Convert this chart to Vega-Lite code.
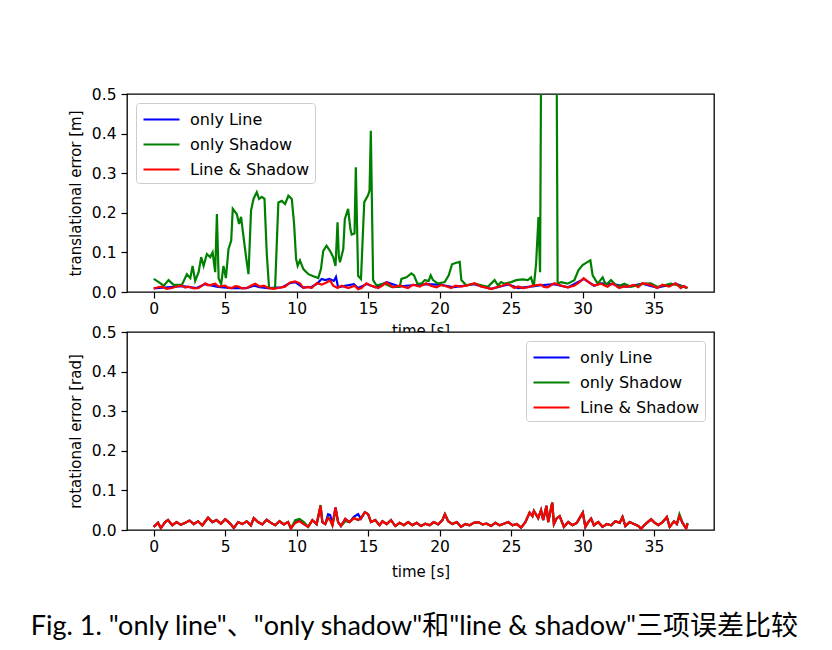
{
  "$schema": "https://vega.github.io/schema/vega-lite/v6.json",
  "padding": {"left": 30, "top": 86, "right": 5, "bottom": 5},
  "title": {
    "text": "Fig. 1. \"only line\"、\"only shadow\"和\"line & shadow\"三项误差比较",
    "orient": "bottom", "anchor": "start", "font": "Lato, Noto Sans CJK SC",
    "fontSize": 27, "fontWeight": "normal", "color": "black", "offset": 34, "dx": -37
  },
  "config": {
    "font": "DejaVu Sans",
    "view": {"stroke": "black", "strokeWidth": 1.3, "fill": "white"},
    "axis": {
      "domain": false, "grid": false, "tickColor": "black", "tickSize": 6, "tickWidth": 1.2, "labelOverlap": false,
      "labelFont": "DejaVu Sans", "labelFontSize": 15.5, "labelColor": "black", "labelPadding": 3,
      "titleFont": "DejaVu Sans", "titleFontSize": 15, "titleFontWeight": "normal", "titleColor": "black"
    },
    "axisY": {"labelPadding": 5},
    "legend": {
      "title": null, "labelFont": "DejaVu Sans", "labelFontSize": 16, "labelColor": "black",
      "symbolType": "M-1.8,0H1.8", "symbolSize": 400, "symbolStrokeWidth": 2.2,
      "symbolOffset": 9, "labelOffset": 17, "padding": 5, "rowPadding": 5,
      "fillColor": "white", "strokeColor": "#cccccc", "cornerRadius": 3, "offset": 9
    },
    "line": {"strokeWidth": 2.2}
  },
  "datasets": {
    "tb": [
      {"t":0,"v":0.009},{"t":1,"v":0.012},{"t":2,"v":0.015},{"t":3,"v":0.01},{"t":3.6,"v":0.02},{"t":4.5,"v":0.013},{"t":5.5,"v":0.01},{"t":6.5,"v":0.01},{"t":7.0,"v":0.016},{"t":7.4,"v":0.012},{"t":8,"v":0.01},{"t":9,"v":0.012},{"t":9.5,"v":0.022},{"t":9.9,"v":0.025},{"t":10.4,"v":0.012},{"t":11.0,"v":0.012},{"t":11.4,"v":0.02},{"t":11.75,"v":0.033},{"t":12.0,"v":0.03},{"t":12.3,"v":0.033},{"t":12.6,"v":0.028},{"t":12.75,"v":0.038},{"t":12.9,"v":0.012},{"t":13.3,"v":0.015},{"t":14.0,"v":0.02},{"t":14.3,"v":0.01},{"t":14.9,"v":0.02},{"t":15.5,"v":0.012},{"t":16.3,"v":0.025},{"t":17.2,"v":0.014},{"t":18.1,"v":0.017},{"t":19.1,"v":0.02},{"t":20.1,"v":0.018},{"t":21.0,"v":0.012},{"t":22.4,"v":0.02},{"t":23.6,"v":0.008},{"t":24.8,"v":0.019},{"t":25.5,"v":0.01},{"t":26.5,"v":0.014},{"t":27.1,"v":0.017},{"t":28.0,"v":0.02},{"t":29,"v":0.012},{"t":30.1,"v":0.033},{"t":30.8,"v":0.016},{"t":31.3,"v":0.022},{"t":32.1,"v":0.02},{"t":33.1,"v":0.013},{"t":34.2,"v":0.021},{"t":35.2,"v":0.011},{"t":36.5,"v":0.021},{"t":37.33,"v":0.01}
    ],
    "tg": [
      {"t":0,"v":0.033},{"t":0.35,"v":0.025},{"t":0.7,"v":0.016},{"t":1.04,"v":0.03},{"t":1.39,"v":0.018},{"t":1.97,"v":0.018},{"t":2.32,"v":0.045},{"t":2.56,"v":0.035},{"t":2.72,"v":0.066},{"t":2.9,"v":0.028},{"t":3.14,"v":0.05},{"t":3.32,"v":0.088},{"t":3.49,"v":0.066},{"t":3.72,"v":0.096},{"t":3.95,"v":0.088},{"t":4.12,"v":0.1},{"t":4.3,"v":0.05},{"t":4.42,"v":0.197},{"t":4.54,"v":0.035},{"t":4.72,"v":0.02},{"t":4.88,"v":0.066},{"t":5.05,"v":0.035},{"t":5.23,"v":0.108},{"t":5.42,"v":0.13},{"t":5.53,"v":0.21},{"t":5.81,"v":0.197},{"t":5.97,"v":0.172},{"t":6.11,"v":0.19},{"t":6.28,"v":0.14},{"t":6.46,"v":0.088},{"t":6.63,"v":0.045},{"t":6.81,"v":0.206},{"t":6.98,"v":0.235},{"t":7.21,"v":0.252},{"t":7.37,"v":0.235},{"t":7.56,"v":0.24},{"t":7.75,"v":0.235},{"t":7.91,"v":0.096},{"t":8.07,"v":0.01},{"t":8.49,"v":0.01},{"t":8.72,"v":0.226},{"t":8.96,"v":0.23},{"t":9.19,"v":0.222},{"t":9.42,"v":0.243},{"t":9.66,"v":0.235},{"t":9.82,"v":0.172},{"t":9.96,"v":0.084},{"t":10.07,"v":0.066},{"t":10.23,"v":0.08},{"t":10.47,"v":0.058},{"t":10.82,"v":0.045},{"t":11.17,"v":0.04},{"t":11.51,"v":0.035},{"t":11.7,"v":0.058},{"t":11.86,"v":0.104},{"t":12.09,"v":0.117},{"t":12.33,"v":0.104},{"t":12.56,"v":0.088},{"t":12.72,"v":0.066},{"t":12.86,"v":0.176},{"t":12.95,"v":0.09},{"t":13.03,"v":0.075},{"t":13.26,"v":0.108},{"t":13.37,"v":0.184},{"t":13.6,"v":0.21},{"t":13.76,"v":0.159},{"t":13.85,"v":0.145},{"t":14.05,"v":0.148},{"t":14.14,"v":0.315},{"t":14.3,"v":0.041},{"t":14.5,"v":0.033},{"t":14.73,"v":0.227},{"t":15.0,"v":0.245},{"t":15.1,"v":0.256},{"t":15.19,"v":0.407},{"t":15.35,"v":0.03},{"t":15.58,"v":0.017},{"t":16.16,"v":0.021},{"t":16.4,"v":0.017},{"t":16.63,"v":0.013},{"t":17.21,"v":0.013},{"t":17.33,"v":0.033},{"t":17.68,"v":0.037},{"t":18.03,"v":0.047},{"t":18.21,"v":0.042},{"t":18.45,"v":0.021},{"t":18.73,"v":0.021},{"t":18.96,"v":0.03},{"t":19.24,"v":0.028},{"t":19.38,"v":0.042},{"t":19.54,"v":0.03},{"t":19.89,"v":0.021},{"t":20.36,"v":0.025},{"t":20.64,"v":0.042},{"t":20.87,"v":0.07},{"t":21.17,"v":0.074},{"t":21.41,"v":0.076},{"t":21.52,"v":0.03},{"t":21.87,"v":0.017},{"t":22.45,"v":0.021},{"t":22.92,"v":0.017},{"t":23.38,"v":0.013},{"t":23.85,"v":0.03},{"t":24.08,"v":0.017},{"t":24.31,"v":0.025},{"t":24.54,"v":0.021},{"t":25.01,"v":0.025},{"t":25.36,"v":0.03},{"t":25.82,"v":0.032},{"t":26.17,"v":0.03},{"t":26.4,"v":0.037},{"t":26.59,"v":0.013},{"t":26.75,"v":0.07},{"t":26.92,"v":0.189},{"t":27.03,"v":0.05},{"t":27.15,"v":0.9},{"t":27.6,"v":1.0},{"t":28.15,"v":0.9},{"t":28.26,"v":0.021},{"t":28.5,"v":0.025},{"t":28.96,"v":0.021},{"t":29.43,"v":0.03},{"t":29.71,"v":0.055},{"t":30.01,"v":0.068},{"t":30.36,"v":0.076},{"t":30.55,"v":0.08},{"t":30.71,"v":0.042},{"t":31.06,"v":0.021},{"t":31.41,"v":0.037},{"t":31.64,"v":0.017},{"t":31.99,"v":0.03},{"t":32.46,"v":0.013},{"t":32.92,"v":0.021},{"t":33.39,"v":0.013},{"t":33.85,"v":0.017},{"t":34.32,"v":0.021},{"t":34.79,"v":0.022},{"t":35.25,"v":0.013},{"t":35.72,"v":0.017},{"t":36.18,"v":0.021},{"t":36.65,"v":0.017},{"t":37.11,"v":0.013},{"t":37.35,"v":0.01}
    ],
    "tr": [
      {"t":0,"v":0.009},{"t":0.3,"v":0.012},{"t":0.58,"v":0.0135},{"t":0.9,"v":0.008},{"t":1.28,"v":0.01},{"t":1.6,"v":0.014},{"t":1.97,"v":0.016},{"t":2.2,"v":0.011},{"t":2.44,"v":0.0135},{"t":2.8,"v":0.009},{"t":3.14,"v":0.01},{"t":3.6,"v":0.022},{"t":3.8,"v":0.017},{"t":4.07,"v":0.0185},{"t":4.3,"v":0.021},{"t":4.54,"v":0.0135},{"t":5.0,"v":0.016},{"t":5.2,"v":0.011},{"t":5.47,"v":0.01},{"t":5.7,"v":0.015},{"t":5.93,"v":0.0135},{"t":6.2,"v":0.009},{"t":6.51,"v":0.01},{"t":6.8,"v":0.016},{"t":7.1,"v":0.021},{"t":7.45,"v":0.0135},{"t":7.7,"v":0.016},{"t":8.03,"v":0.01},{"t":8.4,"v":0.008},{"t":8.72,"v":0.01},{"t":9.19,"v":0.0135},{"t":9.54,"v":0.024},{"t":9.89,"v":0.027},{"t":10.23,"v":0.022},{"t":10.47,"v":0.01},{"t":10.8,"v":0.013},{"t":11.05,"v":0.01},{"t":11.4,"v":0.022},{"t":11.75,"v":0.0185},{"t":12.09,"v":0.024},{"t":12.33,"v":0.029},{"t":12.56,"v":0.016},{"t":12.86,"v":0.01},{"t":13.14,"v":0.016},{"t":13.61,"v":0.01},{"t":14.07,"v":0.016},{"t":14.3,"v":0.007},{"t":14.54,"v":0.01},{"t":14.88,"v":0.022},{"t":15.23,"v":0.016},{"t":15.7,"v":0.01},{"t":16.0,"v":0.016},{"t":16.28,"v":0.024},{"t":16.75,"v":0.012},{"t":17.21,"v":0.016},{"t":17.79,"v":0.01},{"t":18.14,"v":0.0185},{"t":18.61,"v":0.0135},{"t":19.07,"v":0.022},{"t":19.42,"v":0.015},{"t":19.8,"v":0.012},{"t":20.12,"v":0.018},{"t":20.5,"v":0.014},{"t":20.82,"v":0.01},{"t":21.1,"v":0.016},{"t":21.51,"v":0.0135},{"t":21.98,"v":0.017},{"t":22.45,"v":0.022},{"t":22.91,"v":0.0135},{"t":23.3,"v":0.011},{"t":23.61,"v":0.0076},{"t":24.0,"v":0.012},{"t":24.31,"v":0.015},{"t":24.77,"v":0.021},{"t":25.24,"v":0.01},{"t":25.5,"v":0.014},{"t":25.82,"v":0.01},{"t":26.2,"v":0.012},{"t":26.52,"v":0.016},{"t":27.1,"v":0.0185},{"t":27.3,"v":0.013},{"t":27.56,"v":0.012},{"t":28.03,"v":0.022},{"t":28.5,"v":0.016},{"t":28.96,"v":0.012},{"t":29.42,"v":0.016},{"t":29.77,"v":0.024},{"t":30.08,"v":0.035},{"t":30.36,"v":0.027},{"t":30.82,"v":0.016},{"t":31.3,"v":0.021},{"t":31.75,"v":0.0135},{"t":32.1,"v":0.022},{"t":32.57,"v":0.01},{"t":32.9,"v":0.014},{"t":33.14,"v":0.0135},{"t":33.61,"v":0.018},{"t":33.9,"v":0.012},{"t":34.19,"v":0.022},{"t":34.77,"v":0.018},{"t":35.24,"v":0.01},{"t":35.59,"v":0.0185},{"t":36.05,"v":0.0135},{"t":36.52,"v":0.022},{"t":36.87,"v":0.01},{"t":37.1,"v":0.015},{"t":37.33,"v":0.01}
    ],
    "rot": [
      {"t":0,"r":0.008,"g":0.008,"b":0.008},{"t":0.3,"r":0.018,"g":0.018,"b":0.018},{"t":0.5,"r":0.005,"g":0.005,"b":0.005},{"t":0.8,"r":0.02,"g":0.02,"b":0.02},{"t":1.0,"r":0.025,"g":0.025,"b":0.025},{"t":1.3,"r":0.012,"g":0.012,"b":0.012},{"t":1.6,"r":0.02,"g":0.02,"b":0.02},{"t":1.9,"r":0.013,"g":0.013,"b":0.013},{"t":2.2,"r":0.018,"g":0.018,"b":0.018},{"t":2.5,"r":0.024,"g":0.024,"b":0.024},{"t":2.8,"r":0.015,"g":0.015,"b":0.015},{"t":3.1,"r":0.022,"g":0.022,"b":0.022},{"t":3.4,"r":0.012,"g":0.012,"b":0.012},{"t":3.8,"r":0.031,"g":0.031,"b":0.031},{"t":4.1,"r":0.02,"g":0.02,"b":0.02},{"t":4.4,"r":0.025,"g":0.025,"b":0.025},{"t":4.7,"r":0.016,"g":0.016,"b":0.016},{"t":5.0,"r":0.027,"g":0.027,"b":0.027},{"t":5.3,"r":0.018,"g":0.018,"b":0.018},{"t":5.6,"r":0.005,"g":0.005,"b":0.005},{"t":5.9,"r":0.02,"g":0.02,"b":0.02},{"t":6.2,"r":0.015,"g":0.015,"b":0.015},{"t":6.5,"r":0.022,"g":0.022,"b":0.022},{"t":6.8,"r":0.012,"g":0.012,"b":0.012},{"t":7.0,"r":0.03,"g":0.03,"b":0.03},{"t":7.3,"r":0.02,"g":0.02,"b":0.02},{"t":7.6,"r":0.014,"g":0.014,"b":0.014},{"t":7.9,"r":0.026,"g":0.026,"b":0.026},{"t":8.2,"r":0.018,"g":0.018,"b":0.018},{"t":8.5,"r":0.012,"g":0.012,"b":0.012},{"t":8.8,"r":0.022,"g":0.022,"b":0.022},{"t":9.1,"r":0.014,"g":0.014,"b":0.014},{"t":9.4,"r":0.02,"g":0.02,"b":0.02},{"t":9.6,"r":0.004,"g":0.004,"b":0.004},{"t":9.9,"r":0.018,"g":0.025,"b":0.02},{"t":10.2,"r":0.022,"g":0.028,"b":0.024},{"t":10.5,"r":0.015,"g":0.02,"b":0.015},{"t":10.8,"r":0.008,"g":0.008,"b":0.008},{"t":11.1,"r":0.025,"g":0.025,"b":0.025},{"t":11.4,"r":0.015,"g":0.015,"b":0.015},{"t":11.67,"r":0.061,"g":0.063,"b":0.058},{"t":11.8,"r":0.02,"g":0.02,"b":0.02},{"t":12.0,"r":0.015,"g":0.015,"b":0.015},{"t":12.2,"r":0.03,"g":0.032,"b":0.04},{"t":12.35,"r":0.025,"g":0.025,"b":0.038},{"t":12.5,"r":0.012,"g":0.012,"b":0.012},{"t":12.72,"r":0.057,"g":0.05,"b":0.057},{"t":12.9,"r":0.02,"g":0.02,"b":0.02},{"t":13.1,"r":0.01,"g":0.01,"b":0.01},{"t":13.4,"r":0.028,"g":0.022,"b":0.028},{"t":13.7,"r":0.02,"g":0.02,"b":0.02},{"t":14.0,"r":0.03,"g":0.03,"b":0.033},{"t":14.3,"r":0.025,"g":0.025,"b":0.04},{"t":14.5,"r":0.03,"g":0.03,"b":0.028},{"t":14.77,"r":0.045,"g":0.045,"b":0.045},{"t":15.0,"r":0.04,"g":0.04,"b":0.04},{"t":15.2,"r":0.02,"g":0.02,"b":0.02},{"t":15.5,"r":0.025,"g":0.025,"b":0.025},{"t":15.8,"r":0.012,"g":0.012,"b":0.012},{"t":16.0,"r":0.022,"g":0.022,"b":0.022},{"t":16.3,"r":0.015,"g":0.015,"b":0.015},{"t":16.6,"r":0.025,"g":0.025,"b":0.025},{"t":16.9,"r":0.01,"g":0.01,"b":0.01},{"t":17.2,"r":0.018,"g":0.018,"b":0.018},{"t":17.5,"r":0.012,"g":0.012,"b":0.012},{"t":17.8,"r":0.02,"g":0.02,"b":0.02},{"t":18.1,"r":0.012,"g":0.012,"b":0.012},{"t":18.4,"r":0.018,"g":0.018,"b":0.018},{"t":18.7,"r":0.01,"g":0.01,"b":0.01},{"t":19.0,"r":0.016,"g":0.016,"b":0.016},{"t":19.3,"r":0.012,"g":0.012,"b":0.012},{"t":19.6,"r":0.02,"g":0.02,"b":0.02},{"t":19.9,"r":0.014,"g":0.014,"b":0.014},{"t":20.2,"r":0.025,"g":0.025,"b":0.025},{"t":20.37,"r":0.04,"g":0.04,"b":0.04},{"t":20.6,"r":0.022,"g":0.022,"b":0.022},{"t":20.9,"r":0.015,"g":0.015,"b":0.015},{"t":21.2,"r":0.02,"g":0.02,"b":0.02},{"t":21.5,"r":0.008,"g":0.008,"b":0.008},{"t":21.8,"r":0.015,"g":0.015,"b":0.015},{"t":22.1,"r":0.012,"g":0.012,"b":0.012},{"t":22.4,"r":0.018,"g":0.018,"b":0.018},{"t":22.7,"r":0.02,"g":0.02,"b":0.02},{"t":23.0,"r":0.014,"g":0.014,"b":0.014},{"t":23.3,"r":0.016,"g":0.016,"b":0.016},{"t":23.6,"r":0.01,"g":0.01,"b":0.01},{"t":23.9,"r":0.018,"g":0.018,"b":0.018},{"t":24.2,"r":0.012,"g":0.012,"b":0.012},{"t":24.5,"r":0.016,"g":0.016,"b":0.016},{"t":24.8,"r":0.02,"g":0.02,"b":0.02},{"t":25.1,"r":0.012,"g":0.012,"b":0.012},{"t":25.4,"r":0.015,"g":0.015,"b":0.015},{"t":25.7,"r":0.006,"g":0.006,"b":0.006},{"t":26.0,"r":0.02,"g":0.02,"b":0.02},{"t":26.3,"r":0.044,"g":0.044,"b":0.044},{"t":26.5,"r":0.035,"g":0.035,"b":0.035},{"t":26.6,"r":0.048,"g":0.048,"b":0.048},{"t":26.9,"r":0.03,"g":0.03,"b":0.03},{"t":27.1,"r":0.05,"g":0.05,"b":0.05},{"t":27.25,"r":0.025,"g":0.025,"b":0.025},{"t":27.48,"r":0.061,"g":0.061,"b":0.061},{"t":27.6,"r":0.02,"g":0.02,"b":0.02},{"t":27.88,"r":0.069,"g":0.069,"b":0.069},{"t":28.0,"r":0.015,"g":0.015,"b":0.015},{"t":28.2,"r":0.03,"g":0.03,"b":0.03},{"t":28.4,"r":0.035,"g":0.035,"b":0.035},{"t":28.7,"r":0.008,"g":0.008,"b":0.008},{"t":29.0,"r":0.02,"g":0.02,"b":0.02},{"t":29.3,"r":0.012,"g":0.012,"b":0.012},{"t":29.6,"r":0.018,"g":0.018,"b":0.018},{"t":30.02,"r":0.044,"g":0.044,"b":0.044},{"t":30.2,"r":0.008,"g":0.008,"b":0.008},{"t":30.4,"r":0.02,"g":0.02,"b":0.02},{"t":30.6,"r":0.029,"g":0.029,"b":0.029},{"t":30.8,"r":0.012,"g":0.012,"b":0.012},{"t":31.1,"r":0.02,"g":0.02,"b":0.02},{"t":31.4,"r":0.008,"g":0.008,"b":0.008},{"t":31.7,"r":0.015,"g":0.015,"b":0.015},{"t":32.0,"r":0.012,"g":0.012,"b":0.012},{"t":32.3,"r":0.022,"g":0.022,"b":0.022},{"t":32.6,"r":0.018,"g":0.018,"b":0.018},{"t":32.8,"r":0.033,"g":0.033,"b":0.033},{"t":33.0,"r":0.01,"g":0.01,"b":0.01},{"t":33.3,"r":0.02,"g":0.02,"b":0.02},{"t":33.6,"r":0.015,"g":0.015,"b":0.015},{"t":33.9,"r":0.01,"g":0.01,"b":0.01},{"t":34.1,"r":0.003,"g":0.003,"b":0.003},{"t":34.4,"r":0.015,"g":0.015,"b":0.015},{"t":34.8,"r":0.027,"g":0.027,"b":0.027},{"t":35.0,"r":0.02,"g":0.02,"b":0.02},{"t":35.3,"r":0.012,"g":0.012,"b":0.012},{"t":35.6,"r":0.02,"g":0.02,"b":0.02},{"t":35.9,"r":0.033,"g":0.033,"b":0.033},{"t":36.1,"r":0.008,"g":0.008,"b":0.008},{"t":36.4,"r":0.022,"g":0.022,"b":0.022},{"t":36.6,"r":0.015,"g":0.015,"b":0.015},{"t":36.78,"r":0.035,"g":0.04,"b":0.035},{"t":37.0,"r":0.018,"g":0.018,"b":0.018},{"t":37.25,"r":0.004,"g":0.004,"b":0.004},{"t":37.35,"r":0.016,"g":0.018,"b":0.016}
    ]
  },
  "spacing": 40,
  "bounds": "flush",
  "vconcat": [
    {
      "width": 587,
      "height": 198,
      "encoding": {
        "x": {"field": "t", "type": "quantitative", "scale": {"domain": [-1.87, 39.2], "nice": false, "zero": false},
              "axis": {"values": [0,5,10,15,20,25,30,35], "format": "d", "title": "time [s]", "titlePadding": 7}},
        "y": {"field": "v", "type": "quantitative", "scale": {"domain": [0, 0.5], "nice": false},
              "axis": {"values": [0,0.1,0.2,0.3,0.4,0.5], "format": ".1f", "title": "translational error [m]", "titlePadding": 8}}
      },
      "layer": [
        {"data": {"name": "tb"}, "mark": {"type": "line", "clip": true},
         "encoding": {"color": {"datum": "only Line", "type": "nominal",
           "scale": {"domain": ["only Line", "only Shadow", "Line & Shadow"], "range": ["#0000ff", "#008000", "#ff0000"]},
           "legend": {"orient": "top-left"}}}},
        {"data": {"name": "tg"}, "mark": {"type": "line", "clip": true}, "encoding": {"color": {"datum": "only Shadow", "type": "nominal"}}},
        {"data": {"name": "tr"}, "mark": {"type": "line", "clip": true}, "encoding": {"color": {"datum": "Line & Shadow", "type": "nominal"}}}
      ]
    },
    {
      "width": 587,
      "height": 198,
      "data": {"name": "rot"},
      "transform": [{"fold": ["b", "g", "r"], "as": ["k", "val"]}],
      "encoding": {
        "x": {"field": "t", "type": "quantitative", "scale": {"domain": [-1.87, 39.2], "nice": false, "zero": false},
              "axis": {"values": [0,5,10,15,20,25,30,35], "format": "d", "title": "time [s]", "titlePadding": 10}},
        "y": {"field": "val", "type": "quantitative", "scale": {"domain": [0, 0.5], "nice": false},
              "axis": {"values": [0,0.1,0.2,0.3,0.4,0.5], "format": ".1f", "title": "rotational error [rad]", "titlePadding": 8}}
      },
      "layer": [
        {"transform": [{"filter": "datum.k === 'b'"}], "mark": {"type": "line", "clip": true}, "encoding": {
          "color": {"datum": "only Line", "type": "nominal",
           "scale": {"domain": ["only Line", "only Shadow", "Line & Shadow"], "range": ["#0000ff", "#008000", "#ff0000"]},
           "legend": {"orient": "top-right"}}}},
        {"transform": [{"filter": "datum.k === 'g'"}], "mark": {"type": "line", "clip": true}, "encoding": {"color": {"datum": "only Shadow", "type": "nominal"}}},
        {"transform": [{"filter": "datum.k === 'r'"}], "mark": {"type": "line", "clip": true}, "encoding": {"color": {"datum": "Line & Shadow", "type": "nominal"}}}
      ]
    }
  ]
}
